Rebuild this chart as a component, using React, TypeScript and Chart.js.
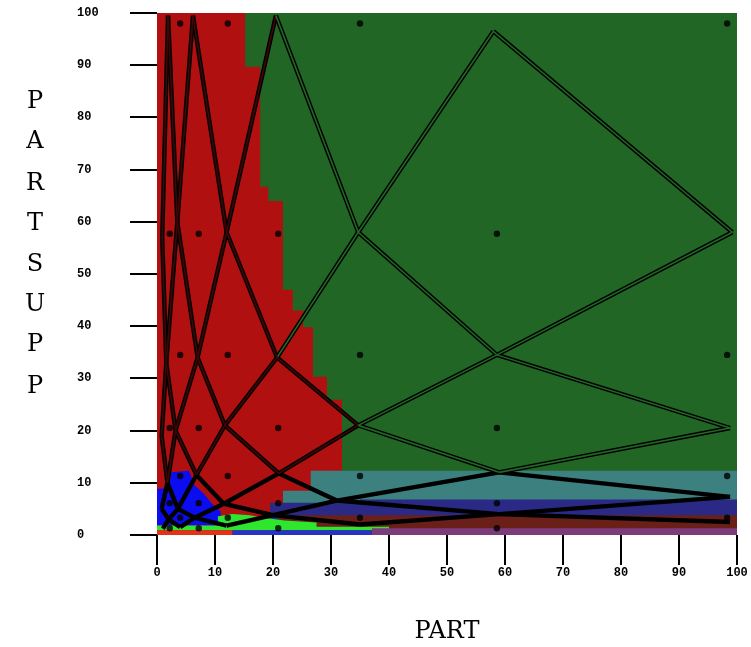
import React, { useEffect, useRef } from 'react';
import { Chart, registerables } from 'chart.js';

Chart.register(...registerables);

// ---- axis ticks ----
const xTicks = [0, 10, 20, 30, 40, 50, 60, 70, 80, 90, 100];
const yTicks = [0, 10, 20, 30, 40, 50, 60, 70, 80, 90, 100];
const xTitle = 'PART';
const yTitle = 'PARTSUPP';

// ---- sample grid levels (dots at even-parity combinations) ----
const xLevels = [98.3, 58.6, 35, 20.9, 12.2, 7.2, 4, 2.2];
const yLevels = [98, 57.7, 34.5, 20.5, 11.3, 6.1, 3.3, 1.3];

// ---- lattice vertices, row by row (even rows: i = 1,3,5,7 ; odd rows: i = 0,2,4,6,8) ----
const vertexRow0: [number, number][] = [[58, 96.5], [20.5, 99.5], [6.2, 99.5], [1.9, 99.5]];
const vertexRow1: [number, number][] = [[99.2, 58], [34.7, 58], [12, 58], [3.5, 60], [0.9, 57]];
const vertexRow2: [number, number][] = [[58.6, 34.5], [20.7, 34], [7, 34], [1.6, 33]];
const vertexRow3: [number, number][] = [[98.8, 20.5], [34.7, 21], [11.7, 21], [3.2, 20], [0.8, 19]];
const vertexRow4: [number, number][] = [[59, 12], [21, 11.8], [6.8, 11.5], [1.8, 10]];
const vertexRow5: [number, number][] = [[98.8, 7.3], [31, 6.6], [11.5, 6], [3.6, 5], [0.8, 5]];
const vertexRow6: [number, number][] = [[59, 4], [20, 3.8], [6.5, 3.3], [2, 3]];
const vertexRow7: [number, number][] = [[98.8, 2.5], [35, 2], [12, 1.8], [4, 1.5], [1, 1.2]];
const vertexRows = [vertexRow0, vertexRow1, vertexRow2, vertexRow3, vertexRow4, vertexRow5, vertexRow6, vertexRow7];

// ---- decision regions: upper edge [x, y] and the value they are filled down to ----
const greenTop: [number, number][] = [[0, 100], [100, 100]];
const redTop: [number, number][] = [
  [0, 100], [15.2, 100], [15.2, 89.7], [17.8, 89.7], [17.8, 66.7], [19.2, 66.7], [19.2, 64],
  [21.7, 64], [21.7, 47], [23.4, 47], [23.4, 43], [25.2, 43], [25.2, 39.8], [26.9, 39.8],
  [26.9, 30.3], [29.3, 30.3], [29.3, 25.9], [31.9, 25.9], [31.9, 12.3],
];
const tealTop: [number, number][] = [[21.7, 8.5], [26.5, 8.5], [26.5, 12.3], [100, 12.3]];
const navyTop: [number, number][] = [[19.5, 6.2], [35, 6.2], [35, 6.8], [100, 6.8]];
const brownTop: [number, number][] = [[21, 3.8], [100, 3.8]];
const blueBlobTop: [number, number][] = [
  [0, 8.8], [2, 9], [2.5, 12], [5.5, 12.3], [6.5, 9.5], [8, 8], [9.5, 6], [11, 4.5], [11, 2],
];
const limeTop: [number, number][] = [
  [0, 1.8], [10.5, 1.8], [10.5, 3.6], [13, 4.0], [16, 3.8], [19, 3.2], [22, 2.8], [27.5, 2.4],
  [27.5, 1.6], [40, 1.6],
];
const purpleTop: [number, number][] = [[37, 1.3], [100, 1.3]];
const blueStripTop: [number, number][] = [[13, 0.9], [37, 0.9]];
const redStripTop: [number, number][] = [[0, 0.9], [13, 0.9]];

const greenBase = 0;
const redBase = 0;
const tealBase = 0;
const navyBase = 0;
const brownBase = 0;
const blueBlobBase = 1.8;
const limeBase = 0.9;
const purpleBase = 0;
const blueStripBase = 0;
const redStripBase = 0;

const GREEN = '#226626';
const RED = '#b01010';
const RED_LINE_CORE = '#420505';

function vertexAt(i: number, j: number): [number, number] | null {
  if (j < 0 || j >= vertexRows.length) return null;
  const row = vertexRows[j];
  const k = j % 2 === 0 ? (i - 1) / 2 : i / 2;
  if (!Number.isInteger(k) || k < 0 || k >= row.length) return null;
  return row[k];
}

function buildChains(): { x: number; y: number }[][] {
  const chains: { x: number; y: number }[][] = [];
  for (const d of [-1, 1]) {
    for (let j = 0; j < vertexRows.length; j++) {
      for (let i = 0; i <= 9; i++) {
        if (!vertexAt(i, j)) continue;
        if (vertexAt(i - d, j - 1)) continue;
        const chain: { x: number; y: number }[] = [];
        let ci = i;
        let cj = j;
        let v = vertexAt(ci, cj);
        while (v) {
          chain.push({ x: v[0], y: v[1] });
          ci += d;
          cj += 1;
          v = vertexAt(ci, cj);
        }
        if (chain.length > 1) chains.push(chain);
      }
    }
  }
  return chains;
}

// height of the red region's upper edge at x (null when outside it)
function redHeightAt(x: number): number | null {
  for (let k = 0; k < redTop.length - 1; k++) {
    const a = redTop[k];
    const b = redTop[k + 1];
    if (a[1] === b[1] && x >= a[0] && x <= b[0]) return a[1];
  }
  return null;
}

function coreColorAt(x: number, y: number): string {
  if (y <= tealTop[tealTop.length - 1][1]) return 'rgba(0,0,0,0)';
  const h = redHeightAt(x);
  if (h === null || y > h) return GREEN;
  return RED_LINE_CORE;
}

function region(pts: [number, number][], base: number, color: string) {
  return {
    data: pts.map(([x, y]) => ({ x, y })),
    fill: { value: base },
    backgroundColor: color,
    borderColor: 'rgba(0,0,0,0)',
    borderWidth: 0,
    pointRadius: 0,
    tension: 0,
  };
}

export default function App() {
  const canvasRef = useRef<HTMLCanvasElement | null>(null);

  useEffect(() => {
    const canvas = canvasRef.current;
    if (!canvas) return;

    const dots: { x: number; y: number }[] = [];
    yLevels.forEach((yv, j) => {
      xLevels.forEach((xv, i) => {
        if ((i + j) % 2 === 0) dots.push({ x: xv, y: yv });
      });
    });

    const chains = buildChains();
    const innerSets = chains.map((c) => ({
      data: c,
      fill: false,
      borderColor: 'rgba(0,0,0,0)',
      borderWidth: 1.6,
      pointRadius: 0,
      tension: 0,
      segment: {
        borderColor: (ctx: any) => {
          const mx = (ctx.p0.parsed.x + ctx.p1.parsed.x) / 2;
          const my = (ctx.p0.parsed.y + ctx.p1.parsed.y) / 2;
          return coreColorAt(mx, my);
        },
      },
    }));
    const outerSets = chains.map((c) => ({
      data: c,
      fill: false,
      borderColor: '#000000',
      borderWidth: 4.4,
      pointRadius: 0,
      tension: 0,
    }));

    const datasets: any[] = [
      {
        data: dots,
        showLine: false,
        pointRadius: 3.2,
        pointBackgroundColor: 'rgba(0,0,0,0.8)',
        pointBorderWidth: 0,
        borderColor: 'rgba(0,0,0,0)',
        fill: false,
      },
      ...innerSets,
      ...outerSets,
      region(redStripTop, redStripBase, '#e2321a'),
      region(blueStripTop, blueStripBase, '#2434c8'),
      region(purpleTop, purpleBase, '#7c3c7c'),
      region(limeTop, limeBase, '#2ee62e'),
      region(blueBlobTop, blueBlobBase, '#0c0cf0'),
      region(brownTop, brownBase, '#6a2018'),
      region(navyTop, navyBase, '#2a2a86'),
      region(tealTop, tealBase, '#3c8080'),
      region(redTop, redBase, RED),
      region(greenTop, greenBase, GREEN),
    ];

    const tickFont = { family: 'Liberation Mono', size: 12, weight: 'bold' as const };

    const chart = new Chart(canvas, {
      type: 'line',
      data: { datasets },
      options: {
        responsive: false,
        animation: false,
        layout: { padding: { left: 77, top: 13, right: 14, bottom: 0 } },
        plugins: {
          legend: { display: false },
          tooltip: { enabled: false },
        },
        scales: {
          x: {
            type: 'linear',
            min: 0,
            max: 100,
            afterFit: (s: any) => {
              s.height = 112;
            },
            afterBuildTicks: (s: any) => {
              s.ticks = xTicks.map((v) => ({ value: v }));
            },
            ticks: {
              autoSkip: false,
              maxRotation: 0,
              padding: 1,
              color: '#000',
              font: tickFont,
            },
            grid: {
              drawOnChartArea: false,
              drawTicks: true,
              tickLength: 30,
              color: '#000',
              lineWidth: 2,
            },
            border: { display: false },
            title: {
              display: true,
              text: xTitle,
              color: '#000',
              font: { family: 'DejaVu Serif', size: 24 },
              padding: { top: 0, bottom: 1 },
            },
          },
          y: {
            type: 'linear',
            min: 0,
            max: 100,
            afterFit: (s: any) => {
              s.width = 80;
            },
            afterBuildTicks: (s: any) => {
              s.ticks = yTicks.map((v) => ({ value: v }));
            },
            ticks: {
              autoSkip: false,
              crossAlign: 'far',
              color: '#000',
              font: tickFont,
            },
            grid: {
              drawOnChartArea: false,
              drawTicks: true,
              tickLength: 27,
              color: '#000',
              lineWidth: 2,
            },
            border: { display: false },
          },
        },
      },
    });

    return () => chart.destroy();
  }, []);

  const letterCenters = [100, 140, 182, 222, 263, 303, 343, 385];

  return (
    <div style={{ position: 'absolute', left: 0, top: 0, width: 751, height: 647, background: '#fff' }}>
      <canvas ref={canvasRef} width={751} height={647} style={{ position: 'absolute', left: 0, top: 0 }} />
      {yTitle.split('').map((ch, idx) => (
        <div
          key={idx}
          style={{
            position: 'absolute',
            left: 35,
            top: letterCenters[idx],
            transform: 'translate(-50%, -50%)',
            fontFamily: 'DejaVu Serif',
            fontSize: 24,
            lineHeight: 1,
            color: '#000',
          }}
        >
          {ch}
        </div>
      ))}
    </div>
  );
}
